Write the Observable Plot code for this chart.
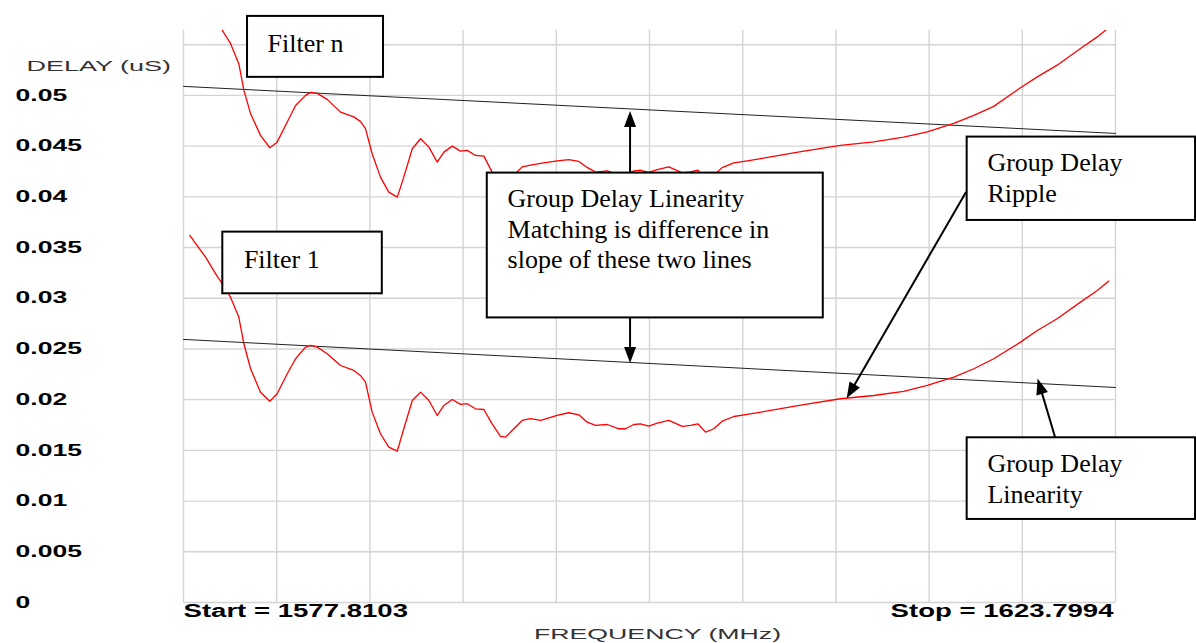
<!DOCTYPE html>
<html><head><meta charset="utf-8">
<script src="https://cdn.jsdelivr.net/npm/d3@7"></script>
<script src="https://cdn.jsdelivr.net/npm/@observablehq/plot@0.6"></script>
<style>html,body{margin:0;padding:0;background:#fff;} svg{display:block;}</style>
</head><body>
<div id="chart"></div>
<script>
// ---- data ----
const fStart = 1577.8103, fStop = 1623.7994;
const startLabel = "Start = 1577.8103";
const stopLabel = "Stop = 1623.7994";
const yTitle = "DELAY (uS)";
const xTitle = "FREQUENCY (MHz)";

const freq = [
  1578.12, 1578.90, 1579.39, 1579.72, 1580.13, 1580.54, 1580.79, 1581.12, 1581.61, 1582.07,
  1582.43, 1582.93, 1583.34, 1583.83, 1584.08, 1584.41, 1584.90, 1585.56, 1586.21, 1586.54,
  1586.79, 1587.12, 1587.53, 1587.94, 1588.36, 1588.68, 1589.10, 1589.51, 1589.92, 1590.33,
  1590.66, 1591.07, 1591.48, 1591.81, 1592.22, 1592.63, 1593.04, 1593.45, 1593.70, 1594.11,
  1594.52, 1594.93, 1595.43, 1596.25, 1596.82, 1597.32, 1597.73, 1598.14, 1598.72, 1599.29,
  1599.62, 1600.03, 1600.36, 1600.77, 1601.19, 1601.76, 1602.42, 1602.83, 1603.19, 1603.57,
  1603.98, 1604.39, 1604.97, 1605.63, 1606.78, 1608.42, 1610.23, 1611.87, 1613.35, 1614.51,
  1615.82, 1616.81, 1617.79, 1619.11, 1619.94, 1620.92, 1622.07, 1622.90, 1623.47
];
const filter1 = [
  0.03619, 0.03405, 0.03242, 0.03143, 0.03011, 0.02814, 0.02551, 0.02305, 0.02074, 0.01985,
  0.02058, 0.02255, 0.02403, 0.02518, 0.02535, 0.02518, 0.02453, 0.02337, 0.02288, 0.02239,
  0.02173, 0.01877, 0.01664, 0.01532, 0.01492, 0.01713, 0.01992, 0.02074, 0.01992, 0.01844,
  0.01943, 0.02002, 0.01953, 0.01960, 0.01910, 0.01903, 0.01762, 0.01637, 0.01630, 0.01713,
  0.01795, 0.01812, 0.01795, 0.01844, 0.01871, 0.01851, 0.01778, 0.01746, 0.01755, 0.01713,
  0.01713, 0.01755, 0.01762, 0.01739, 0.01768, 0.01795, 0.01736, 0.01746, 0.01762, 0.01680,
  0.01713, 0.01788, 0.01834, 0.01854, 0.01894, 0.01950, 0.02009, 0.02041, 0.02081, 0.02140,
  0.02222, 0.02305, 0.02403, 0.02567, 0.02682, 0.02798, 0.02962, 0.03077, 0.03169
];
const filterN = [
  0.06119, 0.05905, 0.05742, 0.05643, 0.05513, 0.05313, 0.05049, 0.04820, 0.04606, 0.04484,
  0.04539, 0.04737, 0.04901, 0.05000, 0.05030, 0.05020, 0.04961, 0.04835, 0.04788, 0.04744,
  0.04672, 0.04425, 0.04194, 0.04046, 0.03997, 0.04194, 0.04474, 0.04573, 0.04490, 0.04342,
  0.04441, 0.04500, 0.04451, 0.04458, 0.04408, 0.04401, 0.04244, 0.04137, 0.04130, 0.04213,
  0.04295, 0.04312, 0.04329, 0.04354, 0.04366, 0.04349, 0.04290, 0.04244, 0.04256, 0.04213,
  0.04213, 0.04256, 0.04262, 0.04241, 0.04268, 0.04295, 0.04236, 0.04246, 0.04262, 0.04180,
  0.04213, 0.04288, 0.04334, 0.04354, 0.04393, 0.04450, 0.04507, 0.04542, 0.04589, 0.04640,
  0.04724, 0.04803, 0.04892, 0.05076, 0.05183, 0.05298, 0.05462, 0.05577, 0.05669
];

// straight-line (linearity) fits: values at Start and Stop
const fitFreq = [fStart, fStop];
const fitN = [0.05089, 0.04625];
const fit1 = [0.02594, 0.02120];

const yTicks = [0, 0.005, 0.01, 0.015, 0.02, 0.025, 0.03, 0.035, 0.04, 0.045, 0.05];
const yTickLabels = ["0", "0.005", "0.01", "0.015", "0.02", "0.025", "0.03", "0.035", "0.04", "0.045", "0.05"];
const yGrid = [0, 0.005, 0.01, 0.015, 0.02, 0.025, 0.03, 0.035, 0.04, 0.045, 0.05, 0.055];
const yTop = 0.0564;

// annotations (data units: MHz, uS)
const boxes = [
  {x1: 1580.97, x2: 1587.68, y1: 0.05779, y2: 0.05178},
  {x1: 1579.75, x2: 1587.62, y1: 0.03652, y2: 0.03044},
  {x1: 1592.80, x2: 1609.38, y1: 0.04234, y2: 0.02806},
  {x1: 1616.48, x2: 1627.75, y1: 0.04589, y2: 0.03767},
  {x1: 1616.48, x2: 1627.75, y1: 0.01624, y2: 0.00819}
];
const noteText = ["Filter n", "Filter 1", "Group Delay Linearity", "Matching is difference in",
  "slope of these two lines", "Group Delay", "Ripple", "Group Delay", "Linearity"];
const noteX = [1581.96, 1580.79, 1593.80, 1593.80, 1593.80, 1617.48, 1617.48, 1617.48, 1617.48];
const noteY = [0.05424, 0.03297, 0.03895, 0.03590, 0.03294, 0.04251, 0.03945, 0.01285, 0.00986];
const arrows = [
  {x1: 1599.87, y1: 0.04231, x2: 1599.87, y2: 0.04842},
  {x1: 1599.87, y1: 0.02801, x2: 1599.87, y2: 0.02357},
  {x1: 1616.45, y1: 0.04043, x2: 1610.56, y2: 0.02009},
  {x1: 1620.84, y1: 0.01627, x2: 1619.98, y2: 0.02204}
];

// ---- chart ----
const xGrid = d3.range(11).map(i => fStart + i * (fStop - fStart) / 10);
const sans = "'Liberation Sans', Arial, Helvetica, sans-serif";
const serif = "'Liberation Serif', 'Times New Roman', serif";
const gridColor = "#d4d4d4";

const chart = Plot.plot({
  width: 1196, height: 643,
  marginLeft: 183, marginRight: 81, marginTop: 30, marginBottom: 41,
  x: {domain: [fStart, fStop], axis: null},
  y: {domain: [0, yTop], axis: null},
  style: {background: "white", overflow: "visible"},
  marks: [
    Plot.ruleY(yGrid, {y: d => d, stroke: gridColor, strokeWidth: 1.4}),
    Plot.ruleX(xGrid, {x: d => d, stroke: gridColor, strokeWidth: 1.4}),
    Plot.line(fitFreq, {x: d => d, y: (d, i) => fitN[i], stroke: "#222", strokeWidth: 1}),
    Plot.line(fitFreq, {x: d => d, y: (d, i) => fit1[i], stroke: "#222", strokeWidth: 1}),
    Plot.line(freq, {x: d => d, y: (d, i) => filterN[i], stroke: "#ff0000", strokeWidth: 1.3, clip: true}),
    Plot.line(freq, {x: d => d, y: (d, i) => filter1[i], stroke: "#ff0000", strokeWidth: 1.3, clip: true}),
    Plot.rect(boxes, {x1: "x1", x2: "x2", y1: "y1", y2: "y2", fill: "white", stroke: "black", strokeWidth: 2}),
    Plot.text(noteText, {x: (d, i) => noteX[i], y: (d, i) => noteY[i], text: d => d,
      textAnchor: "start", lineAnchor: "bottom", fontFamily: serif, fontSize: 26, fill: "black"}),
    Plot.text(yTicks, {y: d => d, text: (d, i) => yTickLabels[i], frameAnchor: "left", dx: -168,
      textAnchor: "start", fontFamily: sans, fontWeight: "bold", fontSize: 16, fill: "black"}),
    Plot.text([yTitle], {text: d => d, frameAnchor: "top-left", dx: -157, dy: 30,
      textAnchor: "start", fontFamily: sans, fontSize: 15, fill: "#333"}),
    Plot.text([startLabel], {text: d => d, frameAnchor: "bottom-left", dy: 1, lineAnchor: "top",
      textAnchor: "start", fontFamily: sans, fontWeight: "bold", fontSize: 18.5, fill: "black"}),
    Plot.text([stopLabel], {text: d => d, frameAnchor: "bottom-right", dx: -2, dy: 1, lineAnchor: "top",
      textAnchor: "end", fontFamily: sans, fontWeight: "bold", fontSize: 18.5, fill: "black"}),
    Plot.text([xTitle], {text: d => d, frameAnchor: "bottom", dx: 8, dy: 26, lineAnchor: "top",
      textAnchor: "middle", fontFamily: sans, fontSize: 15, fill: "#333"})
  ]
});
document.getElementById("chart").appendChild(chart);

// horizontally stretched instrument-style fonts
const stretch = new Map([...yTickLabels.map(t => [t, 1.66]),
  [startLabel, 1.49], [stopLabel, 1.49], [yTitle, 1.8], [xTitle, 1.78]]);
chart.querySelectorAll("text").forEach(t => {
  const k = stretch.get(t.textContent);
  if (!k) return;
  const tr = t.getAttribute("transform");
  if (tr) t.setAttribute("transform", `${tr} scale(${k},1)`);
  else {
    const x = +t.getAttribute("x") || 0;
    t.setAttribute("x", 0);
    t.setAttribute("transform", `translate(${x},0) scale(${k},1)`);
  }
});

// arrows with filled heads, positioned through the plot's scales
const sx = chart.scale("x"), sy = chart.scale("y");
const fx = sx.apply ? (v => sx.apply(v)) : d3.scaleLinear(sx.domain, sx.range);
const fy = sy.apply ? (v => sy.apply(v)) : d3.scaleLinear(sy.domain, sy.range);
const ga = d3.select(chart).append("g").attr("aria-label", "arrows");
arrows.forEach(a => {
  const x1 = fx(a.x1), y1 = fy(a.y1), x2 = fx(a.x2), y2 = fy(a.y2);
  const L = Math.hypot(x2 - x1, y2 - y1), ux = (x2 - x1) / L, uy = (y2 - y1) / L;
  const hl = 16, hw = 6;
  const bx = x2 - ux * hl, by = y2 - uy * hl;
  ga.append("line").attr("x1", x1).attr("y1", y1).attr("x2", bx + ux * 2).attr("y2", by + uy * 2)
    .attr("stroke", "black").attr("stroke-width", 2);
  ga.append("path")
    .attr("d", `M${x2},${y2}L${bx - uy * hw},${by + ux * hw}L${bx + uy * hw},${by - ux * hw}Z`)
    .attr("fill", "black");
});
</script>
</body></html>
